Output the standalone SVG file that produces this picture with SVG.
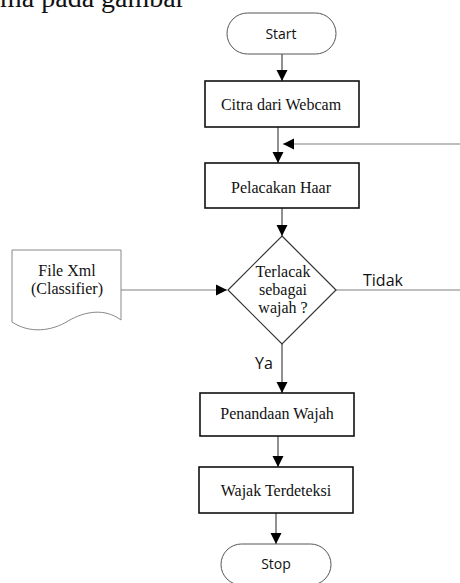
<svg xmlns="http://www.w3.org/2000/svg" width="460" height="583" viewBox="0 0 460 583">
<style>
.serif{font-family:"Liberation Serif","Times New Roman",serif;font-size:16px;fill:#111;text-anchor:middle}
.sans{font-family:"Open Sans","Liberation Sans",Arial,sans-serif;fill:#111}
.box{fill:#fff;stroke:#111;stroke-width:1.6}
.term{fill:#fff;stroke:#555;stroke-width:1}
.doc{fill:#fff;stroke:#888;stroke-width:1}
.v{stroke:#222;stroke-width:1;fill:none}
.h{stroke:#aaa;stroke-width:1.4;fill:none}
</style>
<defs>
<marker id="ah" markerUnits="userSpaceOnUse" markerWidth="12" markerHeight="12" viewBox="0 0 12 12" refX="11" refY="6" orient="auto">
<path d="M0,0.5 L11,6 L0,11.5 Z" fill="#000"/>
</marker>
</defs>
<text x="0" y="7" style="font-family:'Liberation Serif','Times New Roman',serif;font-size:28px;fill:#111">ma pada gambar</text>
<g id="connectors">
<line class="v" x1="282" y1="54" x2="282" y2="81" marker-end="url(#ah)"/>
<line class="v" x1="278" y1="127" x2="278" y2="163" marker-end="url(#ah)"/>
<line class="h" x1="460" y1="144" x2="283" y2="144" marker-end="url(#ah)"/>
<line class="v" x1="282" y1="208" x2="282" y2="236" marker-end="url(#ah)"/>
<line class="h" x1="121" y1="290" x2="227" y2="290" marker-end="url(#ah)"/>
<line class="h" x1="336" y1="290" x2="460" y2="290"/>
<line class="v" x1="282" y1="344" x2="282" y2="393" marker-end="url(#ah)"/>
<line class="v" x1="278" y1="436" x2="278" y2="467" marker-end="url(#ah)"/>
<line class="v" x1="276" y1="513" x2="276" y2="544" marker-end="url(#ah)"/>
<text class="sans" x="363" y="286" font-size="16">Tidak</text>
<text class="sans" x="255" y="369" font-size="16">Ya</text>
</g>
<g id="start">
<rect class="term" x="227" y="13" width="109" height="41" rx="20.5"/>
<text class="sans" x="281" y="39" font-size="14" text-anchor="middle">Start</text>
</g>
<g id="citra">
<rect class="box" x="205" y="81" width="154" height="46"/>
<text class="serif" x="281" y="110">Citra dari Webcam</text>
</g>
<g id="pelacakan">
<rect class="box" x="205" y="163" width="154" height="45"/>
<text class="serif" x="281" y="193">Pelacakan Haar</text>
</g>
<g id="decision">
<path d="M282,236 L336,290 L282,344 L228,290 Z" fill="#fff" stroke="#333" stroke-width="1.2"/>
<text class="serif" x="283" y="277">Terlacak</text>
<text class="serif" x="283" y="295">sebagai</text>
<text class="serif" x="283" y="313">wajah ?</text>
</g>
<g id="filexml">
<path class="doc" d="M12,250 L121,250 L121,320 C105,308 85,311 68,321 C52,331 30,334 12,322 Z"/>
<text class="serif" x="67" y="276">File Xml</text>
<text class="serif" x="67" y="294">(Classifier)</text>
</g>
<g id="penandaan">
<rect class="box" x="200" y="393" width="154" height="43"/>
<text class="serif" x="277" y="419">Penandaan Wajah</text>
</g>
<g id="wajak">
<rect class="box" x="199" y="467" width="154" height="46"/>
<text class="serif" x="276" y="496">Wajak Terdeteksi</text>
</g>
<g id="stop">
<rect class="term" x="221" y="544" width="110" height="41" rx="20.5"/>
<text class="sans" x="276" y="569" font-size="14" text-anchor="middle">Stop</text>
</g>
</svg>
